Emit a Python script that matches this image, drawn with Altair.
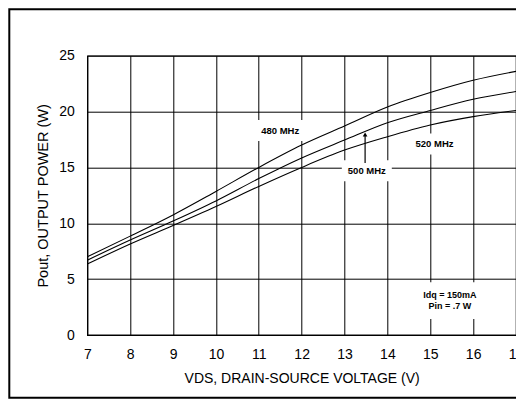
import altair as alt
import pandas as pd

vds = [7, 8, 9, 10, 11, 12, 13, 14, 15, 16, 17]
p480 = [7.0, 8.85, 10.75, 12.85, 15.0, 17.0, 18.7, 20.4, 21.7, 22.8, 23.6]
p500 = [6.7, 8.5, 10.2, 12.0, 14.0, 15.85, 17.45, 19.0, 20.1, 21.1, 21.8]
p520 = [6.35, 8.15, 9.8, 11.5, 13.3, 15.0, 16.55, 17.75, 18.8, 19.55, 20.1]

series_names = ["480 MHz", "500 MHz", "520 MHz"]

label_text = ["480 MHz", "500 MHz", "520 MHz"]
label_x = [11.5, 13.52, 15.1]
label_y = [18.3, 14.7, 17.1]

note_lines = ["Idq = 150mA", "Pin = .7  W"]
note_x = [15.46, 15.46]
note_y = [3.55, 2.6]

arrow_x = [13.48]
arrow_y0 = [15.4]
arrow_y1 = [17.95]

rows = []
for name, vals in zip(series_names, [p480, p500, p520]):
    for v, p in zip(vds, vals):
        rows.append({"vds": v, "pout": p, "series": name})
df = pd.DataFrame(rows)

labels_df = pd.DataFrame({"x": label_x, "y": label_y, "t": label_text})
notes_df = pd.DataFrame({"x": note_x, "y": note_y, "t": note_lines})
arrow_df = pd.DataFrame({"x": arrow_x, "y0": arrow_y0, "y1": arrow_y1})

xs = alt.Scale(domain=[7, 17], nice=False)
ys = alt.Scale(domain=[0, 25], nice=False)

x_axis = alt.Axis(values=list(range(7, 18)), title="VDS, DRAIN-SOURCE VOLTAGE (V)",
                  grid=True, gridColor="black", gridOpacity=1, gridWidth=1,
                  domain=False, ticks=False, labelPadding=12, labelFontSize=14,
                  labelColor="black", titleFontSize=14, titleFontWeight="normal",
                  titleColor="black", titlePadding=10, labelFont="Liberation Sans",
                  titleFont="Liberation Sans", labelFlush=False)
y_axis = alt.Axis(values=[0, 5, 10, 15, 20, 25], title="Pout, OUTPUT POWER (W)",
                  grid=True, gridColor="black", gridOpacity=1, gridWidth=1,
                  domain=False, ticks=False, labelPadding=13, labelFontSize=14,
                  labelColor="black", titleFontSize=14.5, titleFontWeight="normal",
                  titleColor="black", titlePadding=8, labelFont="Liberation Sans",
                  titleFont="Liberation Sans", labelFlush=False)

frame = alt.Chart(pd.DataFrame({"a": [0]})).mark_rect(
    filled=False, stroke="black", strokeWidth=2
).encode(
    x=alt.value(-78), x2=alt.value(520), y=alt.value(-46.5), y2=alt.value(342)
)

lines = alt.Chart(df).mark_line(color="black", strokeWidth=1.1, interpolate="monotone").encode(
    x=alt.X("vds:Q", scale=xs, axis=x_axis),
    y=alt.Y("pout:Q", scale=ys, axis=y_axis),
    detail="series:N",
)

box = "M-1,-0.42L1,-0.42L1,0.42L-1,0.42Z"
label_boxes = alt.Chart(labels_df).mark_point(
    shape=box, filled=True, color="white", opacity=1, size=2500
).encode(x=alt.X("x:Q", scale=xs), y=alt.Y("y:Q", scale=ys))

label_texts = alt.Chart(labels_df).mark_text(
    font="Liberation Sans", fontSize=9.5, fontWeight="bold", color="black"
).encode(x=alt.X("x:Q", scale=xs), y=alt.Y("y:Q", scale=ys), text="t:N")

note_box_df = pd.DataFrame({"x": [note_x[0]], "y": [(note_y[0] + note_y[1]) / 2]})
note_box = alt.Chart(note_box_df).mark_point(
    shape="M-1,-0.56L1,-0.56L1,0.56L-1,0.56Z", filled=True, color="white", opacity=1, size=4300
).encode(x=alt.X("x:Q", scale=xs), y=alt.Y("y:Q", scale=ys))

note_texts = alt.Chart(notes_df).mark_text(
    font="Liberation Sans", fontSize=9, fontWeight="bold", color="black"
).encode(x=alt.X("x:Q", scale=xs), y=alt.Y("y:Q", scale=ys), text="t:N")

arrow_rule = alt.Chart(arrow_df).mark_rule(color="black", strokeWidth=1.2).encode(
    x=alt.X("x:Q", scale=xs), y=alt.Y("y0:Q", scale=ys), y2="y1:Q"
)
arrow_head = alt.Chart(arrow_df).mark_point(
    shape="triangle-up", filled=True, color="black", opacity=1, size=22
).encode(x=alt.X("x:Q", scale=xs), y=alt.Y("y1:Q", scale=ys))

chart = alt.layer(
    frame, label_boxes, note_box, lines, label_texts, note_texts, arrow_rule, arrow_head
).properties(
    width=428.7, height=279.3,
    autosize=alt.AutoSizeParams(type="none"),
    padding={"left": 79.3, "top": 47.7, "right": 0, "bottom": 66},
    background="white",
).configure_view(stroke="black", strokeWidth=1.2)

chart.save("out.html", embed_options={"renderer": "svg", "actions": False})
